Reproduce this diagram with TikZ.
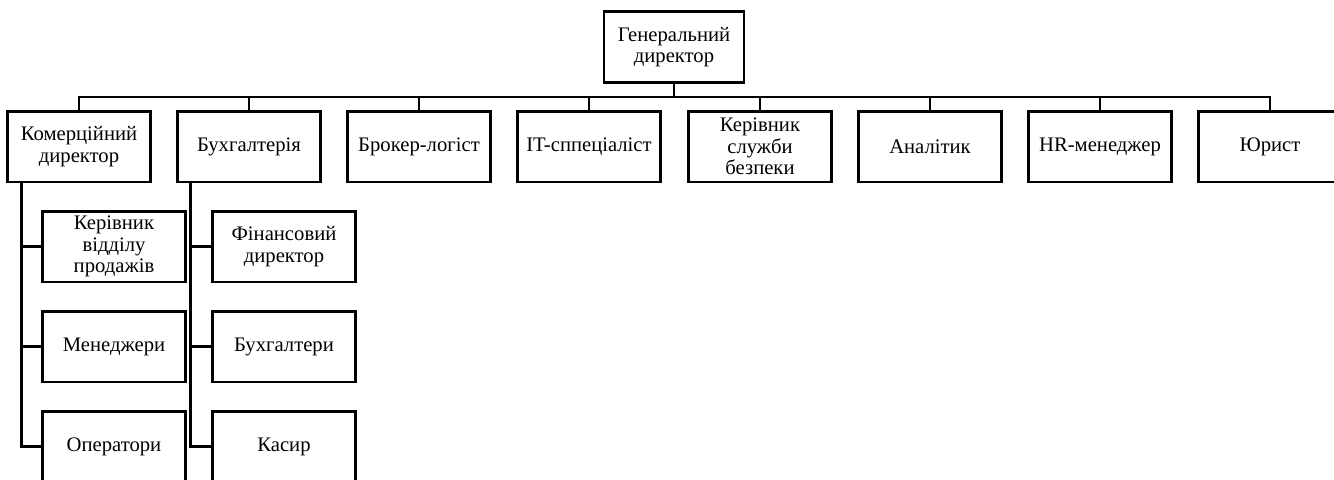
\documentclass[tikz,border=0pt]{standalone}
\usepackage{fontspec}
\setmainfont{Liberation Serif}
\tikzset{
  unit/.style={draw,line width=2pt,align=center,inner sep=0pt,
    minimum width=107pt,minimum height=53pt,
    font=\fontsize{15.5}{16}\selectfont},
  link/.style={line width=2pt}
}
\begin{document}
\begin{tikzpicture}[x=0.75pt,y=-0.75pt]
\useasboundingbox (0,0) rectangle (1334,479);
\node[unit,minimum width=105pt] (GD) at (674,47) {Генеральний\\директор};
\coordinate (bus) at (674,97);
\node[unit] (Kom) at (79,146.5) {Комерційний\\директор};
\node[unit] (Buh) at (249,146.5) {Бухгалтерія};
\node[unit] (Brok) at (419,146.5) {Брокер-логіст};
\node[unit] (IT) at (589,146.5) {IT-сппеціаліст};
\node[unit] (SB) at (760,146.5) {Керівник\\служби\\безпеки};
\node[unit] (An) at (930,146.5) {Аналітик};
\node[unit] (HR) at (1100,146.5) {HR-менеджер};
\node[unit] (Jur) at (1270,146.5) {Юрист};
\node[unit] (KVP) at (114,246.5) {Керівник\\відділу\\продажів};
\node[unit] (Men) at (114,346.5) {Менеджери};
\node[unit] (Oper) at (114,446.5) {Оператори};
\node[unit] (Fin) at (284,246.5) {Фінансовий\\директор};
\node[unit] (Bux) at (284,346.5) {Бухгалтери};
\node[unit] (Kas) at (284,446.5) {Касир};
% top level
\draw[link] (GD.south) -- (bus);
\foreach \n in {Kom,Buh,Brok,IT,SB,An,HR,Jur}
  \draw[link] (bus) -| (\n.north);
% sub units
\foreach \n in {KVP,Men,Oper}
  \draw[link] (Kom.south west) ++(15,0) |- (\n.west);
\foreach \n in {Fin,Bux,Kas}
  \draw[link] (Buh.south west) ++(14,0) |- (\n.west);
\end{tikzpicture}
\end{document}
